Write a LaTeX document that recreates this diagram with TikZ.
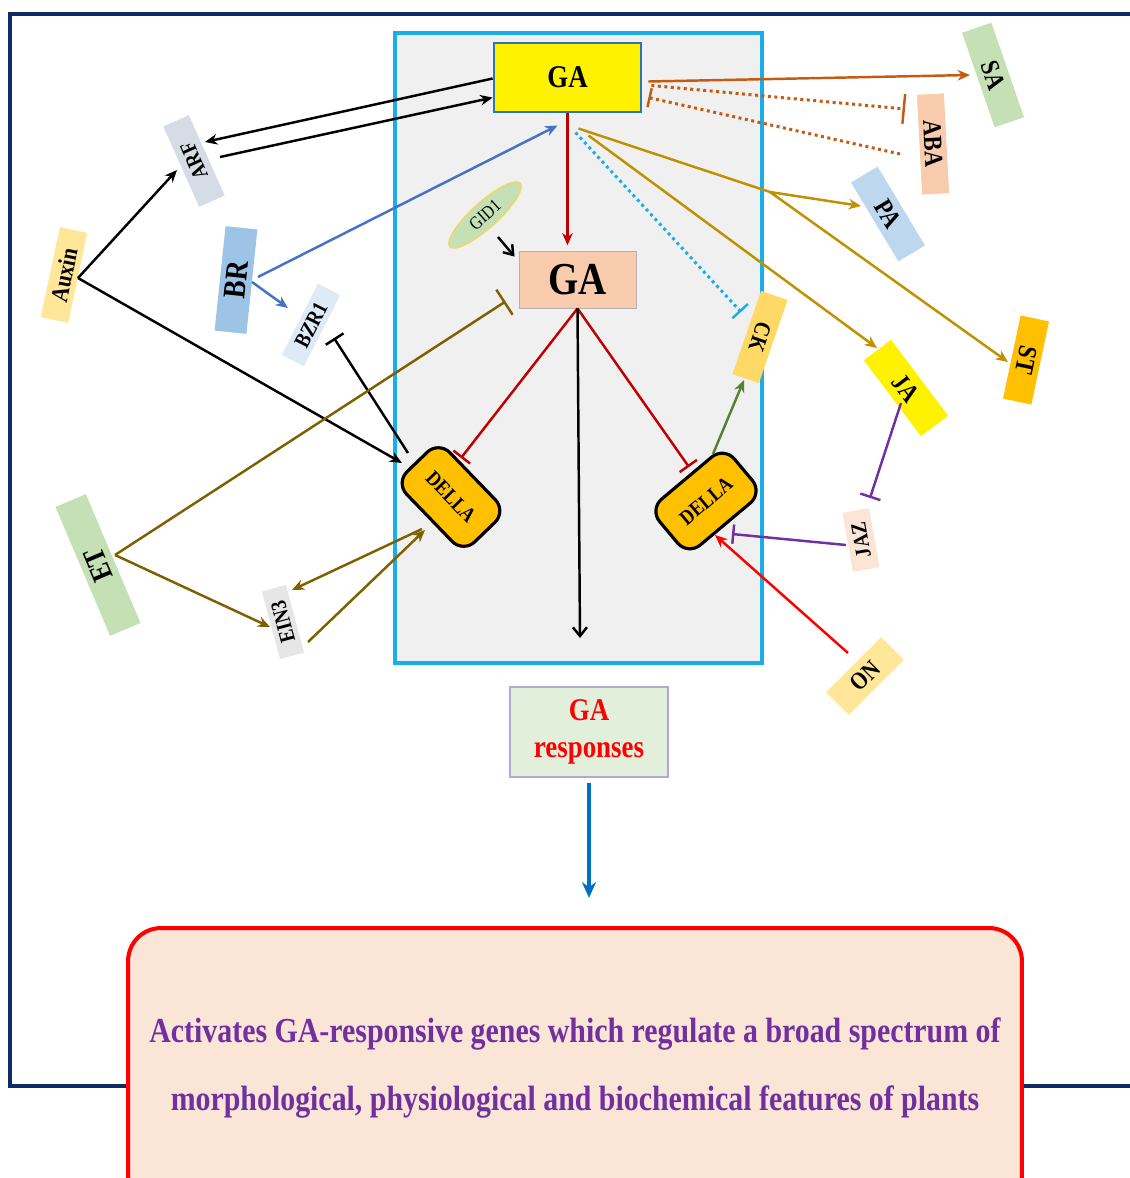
\documentclass[tikz,border=0pt]{standalone}
\usepackage{fontspec}
\setmainfont{Liberation Serif}[FakeStretch=0.85]
\usetikzlibrary{
    positioning,
    arrows.meta,
    shapes.geometric,
    calc
}

\definecolor{navy}{HTML}{0F2B63}
\definecolor{skyline}{HTML}{19AEEA}
\definecolor{cellgray}{HTML}{F0F0F0}
\definecolor{gaedge}{HTML}{2E75B6}
\definecolor{peach}{HTML}{F8CBAD}
\definecolor{sage}{HTML}{C5E0B4}
\definecolor{slate}{HTML}{D6DCE5}
\definecolor{sand}{HTML}{FFE699}
\definecolor{brfill}{HTML}{9DC3E6}
\definecolor{icefill}{HTML}{DEEBF7}
\definecolor{pafill}{HTML}{BDD7EE}
\definecolor{amber}{HTML}{FFC000}
\definecolor{ckfill}{HTML}{FFD966}
\definecolor{einfill}{HTML}{E7E6E6}
\definecolor{blush}{HTML}{FBE5D6}
\definecolor{respfill}{HTML}{E2EFDA}
\definecolor{respedge}{HTML}{B4A7D6}
\definecolor{plum}{HTML}{7030A0}
\definecolor{crimson}{HTML}{C00000}
\definecolor{etbrown}{HTML}{7F6000}
\definecolor{mustard}{HTML}{BF9000}
\definecolor{rust}{HTML}{C55A11}
\definecolor{brline}{HTML}{4472C4}
\definecolor{leaf}{HTML}{548235}
\definecolor{respblue}{HTML}{0070C0}

\tikzset{
    >={Stealth[length=7pt,width=6pt]},
    tag/.style={
        inner sep=0pt,
        font=\bfseries\fontsize{#1}{#1}\selectfont
    },
    della/.style={
        draw,
        line width=1.8pt,
        fill=amber,
        rounded corners=0.32cm,
        minimum width=1.95cm,
        minimum height=1.2cm,
        inner sep=0pt,
        font=\bfseries\fontsize{12}{14}\selectfont
    },
    link/.style={line width=1.4pt},
    blocks/.style={-{Bar[width=12pt]}},
    dots/.style={line width=1.7pt, dash pattern=on 1.7pt off 2pt}
}

\begin{document}
\begin{tikzpicture}[
    x=0.02cm,
    y=-0.02cm
]

    \clip (0,0) rectangle (1130,1178);

    % Marcos
    \draw[navy, line width=2.3pt] (1130,14) -- (10,14) -- (10,1086) -- (1130,1086);
    \draw[skyline, line width=2.3pt, fill=cellgray] (395,33) rectangle (762,663);

    % GA y receptor
    \node[draw=gaedge, line width=1.6pt, fill=yellow, minimum width=2.94cm,
          minimum height=1.38cm, font=\bfseries\fontsize{18}{20}\selectfont]
          (ga) at (567.5,77.5) {GA};
    \node[draw=gray!60, line width=0.5pt, fill=peach, minimum width=2.34cm,
          minimum height=1.14cm, font=\bfseries\fontsize{26}{28}\selectfont]
          (gain) at (577.5,279.5) {GA};
    \node[ellipse, draw=amber!70, line width=0.6pt, fill=sage, rotate=42,
          minimum width=1.9cm, minimum height=0.52cm, inner sep=0pt,
          font=\fontsize{10.5}{11}\selectfont]
          (gid) at (485,215) {GID1};

    % DELLA
    \node[della, rotate=-46] (dl) at (451,497) {DELLA};
    \node[della, rotate=40]  (dr) at (706,501) {DELLA};

    % Hormonas y factores
    \node[tag=12.5, fill=slate,   rotate=114,  minimum width=1.76cm, minimum height=0.56cm] (arf)   at (194,161)  {ARF};
    \node[tag=14,   fill=sand,    rotate=78,   minimum width=1.84cm, minimum height=0.56cm] (auxin) at (64,275)   {Auxin};
    \node[tag=18,   fill=brfill,  rotate=84,   minimum width=2.10cm, minimum height=0.64cm] (br)    at (236,280)  {BR};
    \node[tag=12.5, fill=icefill, rotate=63,   minimum width=1.60cm, minimum height=0.50cm] (bzr)   at (311,325)  {BZR1};
    \node[tag=17,   fill=sage,    rotate=113,  minimum width=2.80cm, minimum height=0.66cm] (et)    at (98,565)   {ET};
    \node[tag=12.5, fill=einfill, rotate=105,  minimum width=1.40cm, minimum height=0.50cm] (ein)   at (283,622)  {EIN3};
    \node[tag=13,   fill=ckfill,  rotate=-109, minimum width=1.76cm, minimum height=0.56cm] (ck)    at (760,337)  {CK};
    \node[tag=15,   fill=yellow,  rotate=-53,  minimum width=1.90cm, minimum height=0.68cm] (ja)    at (906,388)  {JA};
    \node[tag=12.5, fill=blush,   rotate=100,  minimum width=1.20cm, minimum height=0.54cm] (jaz)   at (861,540)  {JAZ};
    \node[tag=14,   fill=sand,    rotate=45,   minimum width=1.56cm, minimum height=0.64cm] (on)    at (865,676)  {ON};
    \node[tag=15,   fill=sage,    rotate=-71,  minimum width=2.00cm, minimum height=0.62cm] (sa)    at (993,75)   {SA};
    \node[tag=15,   fill=peach,   rotate=-87,  minimum width=2.00cm, minimum height=0.54cm] (aba)   at (933,144)  {ABA};
    \node[tag=15,   fill=pafill,  rotate=-59,  minimum width=1.84cm, minimum height=0.62cm] (pa)    at (888,214)  {PA};
    \node[tag=15,   fill=amber,   rotate=-102, minimum width=1.70cm, minimum height=0.58cm] (st)    at (1026,360) {ST};

    % Respuesta
    \node[draw=respedge, line width=0.6pt, fill=respfill, minimum width=3.16cm,
          minimum height=1.8cm, align=center, text=red,
          font=\bfseries\fontsize{18}{21}\selectfont]
          (resp) at (589,732) {GA\\responses};
    \node[draw=red, line width=2.3pt, fill=blush, rounded corners=0.66cm,
          minimum width=17.88cm, minimum height=5.6cm, align=center, text=plum,
          font=\bfseries\fontsize{20}{39}\selectfont]
          (effect) at (575,1068)
          {Activates GA-responsive genes which regulate a broad spectrum of\\
           morphological, physiological and biochemical features of plants};

    \coordinate (fork) at (770,192);
    \coordinate (down) at (580,638);

    % GA y ARF / auxina
    \draw[link, ->] ($(ga.west)+(0,1)$) -- ($(arf)+(11,-19)$);
    \draw[link, ->] ($(arf)+(26,-4)$) -- (ga.195);
    \draw[link, ->] ($(auxin)+(14,3)$) -- ($(arf)+(-17,9)$);
    \draw[link, ->] ($(auxin)+(14,3)$) -- ($(dl)+(-49,-34)$);

    % BR
    \draw[link, brline, ->] ($(br)+(22,-3)$) -- ($(ga)+(-10,48)$);
    \draw[link, brline, ->] ($(br)+(16,2)$) -- ($(bzr)+(-23,-17)$);
    \draw[link, blocks] ($(dl)+(-43,-44)$) -- ($(bzr)+(23,13)$);

    % Etileno
    \draw[link, etbrown, -{Bar[width=17pt]}] ($(et)+(17,-10)$) -- ($(gain)+(-72,22)$);
    \draw[link, etbrown, ->] ($(et)+(17,-10)$) -- ($(ein)+(-13,5)$);
    \draw[link, etbrown, ->] ($(dl)+(-29,32)$) -- ($(ein)+(9,-32)$);
    \draw[link, etbrown, ->] ($(ein)+(25,20)$) -- ($(dl)+(-26,33)$);

    % Nucleo
    \draw[link, crimson, ->, shorten >=3pt] (ga.south) -- (ga.south |- gain.north);
    \draw[link, -{Straight Barb[length=5pt,width=7pt]}] ($(gid)+(13,22)$) -- ($(gain.north west)+(-4,6)$);
    \draw[link, crimson, blocks] (gain.south) -- ($(dl)+(10,-39)$);
    \draw[link, crimson, blocks] (gain.south) -- ($(dr)+(-17,-34)$);
    \draw[link, -{Straight Barb[length=5pt,width=8pt]}] (gain.south) -- (down);
    \draw[link, leaf, ->] ($(dr)+(7,-47)$) -- ($(ck)+(-16,43)$);
    \draw[dots, skyline, -{Bar[width=12pt,line width=1.4pt]}] ($(ga)+(8,55)$) -- ($(ck)+(-19,-25)$);

    % GA hacia la derecha
    \draw[link, mustard] ($(ga)+(11,51)$) -- (fork);
    \draw[link, mustard, ->] (fork) -- ($(pa)+(-27,-8)$);
    \draw[link, mustard, ->] (fork) -- ($(st)+(-18,2)$);
    \draw[link, mustard, ->] ($(ga)+(21,58)$) -- ($(ja)+(-29,-40)$);
    \draw[link, rust, ->] ($(ga.east)+(6,4)$) -- ($(sa)+(-23,0)$);
    \draw[dots, rust, -{Bar[width=17pt,line width=1.4pt]}] ($(ga.east)+(9,8)$) -- ($(aba)+(-28,-35)$);
    \draw[dots, rust, -{Bar[width=11pt,line width=1.4pt]}] ($(aba)+(-33,10)$) -- ($(ga.east)+(6,20)$);

    % JA, JAZ, ON
    \draw[link, plum, blocks] ($(ja)+(-5,15)$) -- ($(jaz)+(9,-42)$);
    \draw[link, plum, -{Bar[width=11pt]}] ($(jaz)+(-15,5)$) -- ($(dr)+(26,33)$);
    \draw[link, red, ->] ($(on)+(-17,-23)$) -- ($(dr)+(9,34)$);

    % Respuesta
    \draw[line width=2pt, respblue, -{Stealth[length=9pt,width=8pt]}, shorten <=3pt, shorten >=16pt]
        (resp.south) -- (resp.south |- effect.north);

\end{tikzpicture}
\end{document}
